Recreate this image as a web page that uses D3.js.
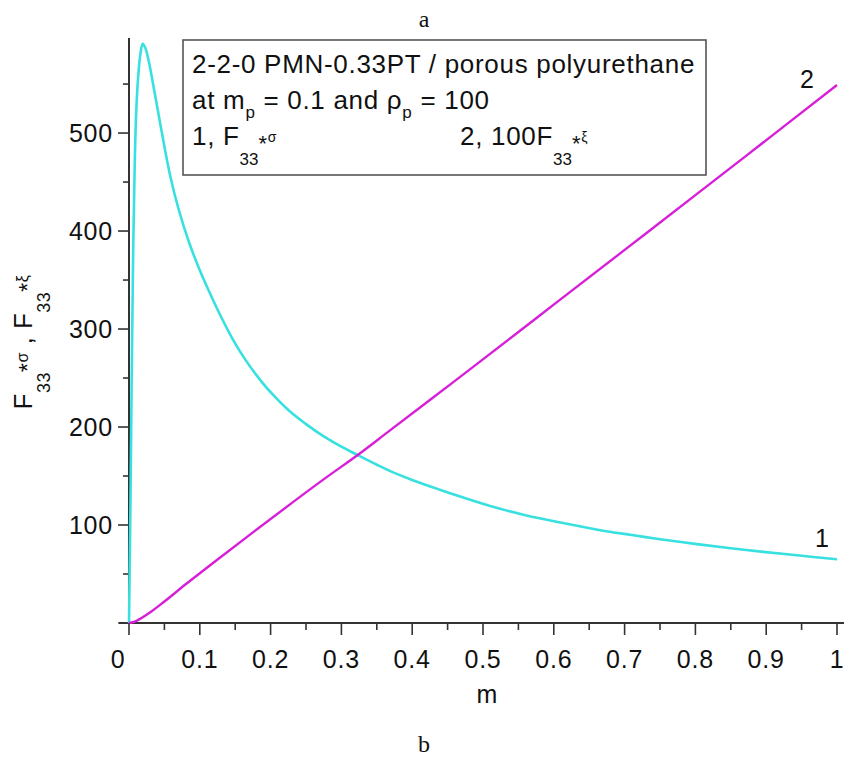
<!DOCTYPE html>
<html>
<head>
<meta charset="utf-8">
<script src="https://cdn.jsdelivr.net/npm/d3@7"></script>
<style>
  body { margin: 0; background: #fff; }
  svg { display: block; }
  text { font-family: "Liberation Sans", Arial, sans-serif; fill: #111; }
  .serif { font-family: "Liberation Serif", "Times New Roman", serif; }
</style>
</head>
<body>
<div id="chart"></div>
<script>
// curve 1, F33*sigma
const m1 = [0, 0.002, 0.004, 0.006, 0.008, 0.010, 0.013, 0.016, 0.0193, 0.023, 0.028, 0.034,
    0.044, 0.058, 0.07, 0.085, 0.1, 0.114, 0.13, 0.147, 0.165, 0.18, 0.2, 0.227, 0.25,
    0.274, 0.3, 0.324, 0.35, 0.369, 0.4, 0.439, 0.47, 0.519, 0.56, 0.613, 0.66, 0.708,
    0.75, 0.802, 0.85, 0.896, 0.95, 1.0];
const f1 = [0, 120, 260, 385, 465, 518, 558, 580, 591, 587, 573, 550,
    510, 457, 422.5, 388, 360, 337, 312.5, 289, 268, 253, 235.5, 216, 203,
    191, 180, 171, 161.5, 155, 146, 136, 128.5, 117.5, 110, 102, 95.5, 90,
    85.5, 80.5, 76.3, 72.6, 68.6, 65];

// curve 2, 100 F33*xi
const m2 = [0, 0.01, 0.03, 0.05, 0.081, 0.12, 0.176, 0.27, 0.324, 0.364, 0.453, 0.55,
    0.609, 0.731, 0.872, 1.0];
const f2 = [0, 2, 11, 22, 40, 62, 93, 144, 172, 194, 243, 297,
    330, 398, 477, 549];

const xMajor = [0, 0.1, 0.2, 0.3, 0.4, 0.5, 0.6, 0.7, 0.8, 0.9, 1];
const xMinor = [0.05, 0.15, 0.25, 0.35, 0.45, 0.55, 0.65, 0.75, 0.85, 0.95];
const yMajor = [100, 200, 300, 400, 500];
const yMinor = [50, 150, 250, 350, 450, 550];

const width = 844, height = 764;

var svg = d3.select('#chart')
    .append('svg')
    .attr('width', width)
    .attr('height', height);

var x = d3.scaleLinear().domain([0, 1]).range([129, 837]);
var y = d3.scaleLinear().domain([0, 597]).range([623, 38]);

// axes
let axisG = svg.append('g').attr('stroke', '#333');

axisG.append('line')
    .attr('x1', x(-0.015)).attr('x2', width)
    .attr('y1', y(0)).attr('y2', y(0))
    .attr('stroke-width', 2);

axisG.append('line')
    .attr('x1', x(0)).attr('x2', x(0))
    .attr('y1', y(0)).attr('y2', y(597))
    .attr('stroke-width', 2);

axisG.selectAll('.xt')
    .data(xMajor.map(d => [d, 12]).concat(xMinor.map(d => [d, 7])))
    .join('line')
    .attr('x1', d => x(d[0])).attr('x2', d => x(d[0]))
    .attr('y1', y(0)).attr('y2', d => y(0) + d[1])
    .attr('stroke-width', 1.6);

axisG.selectAll('.yt')
    .data(yMajor.map(d => [d, 11]).concat(yMinor.map(d => [d, 6])))
    .join('line')
    .attr('x1', x(0)).attr('x2', d => x(0) - d[1])
    .attr('y1', d => y(d[0])).attr('y2', d => y(d[0]))
    .attr('stroke-width', 1.6);

svg.selectAll('.xl')
    .data(xMajor)
    .join('text')
    .attr('text-anchor', 'middle')
    .attr('font-size', 25)
    .attr('letter-spacing', 0.8)
    .attr('x', d => d == 0 ? x(d) - 11 : x(d))
    .attr('y', y(0) + 45)
    .text(d => d3.format('~g')(d));

svg.selectAll('.yl')
    .data(yMajor)
    .join('text')
    .attr('text-anchor', 'end')
    .attr('font-size', 25)
    .attr('letter-spacing', 0.8)
    .attr('x', x(0) - 16)
    .attr('y', d => y(d) + 9)
    .text(d => d);

// curves
var line = d3.line()
    .x(d => x(d[0]))
    .y(d => y(d[1]))
    .curve(d3.curveCatmullRom.alpha(0.5));

svg.append('path')
    .datum(m1.map((d, i) => [d, f1[i]]))
    .attr('d', line)
    .attr('fill', 'none')
    .attr('stroke', '#38e0e0')
    .attr('stroke-width', 2.6);

svg.append('path')
    .datum(m2.map((d, i) => [d, f2[i]]))
    .attr('d', line)
    .attr('fill', 'none')
    .attr('stroke', '#d81fd8')
    .attr('stroke-width', 2.4);

svg.append('text').attr('font-size', 25).attr('text-anchor', 'middle')
    .attr('x', 822).attr('y', 547).text('1');
svg.append('text').attr('font-size', 25).attr('text-anchor', 'middle')
    .attr('x', 807).attr('y', 88).text('2');

// legend box
svg.append('rect')
    .attr('x', 183).attr('y', 40)
    .attr('width', 523).attr('height', 135)
    .attr('fill', '#fff')
    .attr('stroke', '#555')
    .attr('stroke-width', 1.6);

let legG = svg.append('g').attr('font-size', 26).attr('letter-spacing', 0.7);

legG.append('text').attr('x', 192).attr('y', 73)
    .text('2-2-0 PMN-0.33PT / porous polyurethane');

let l2 = legG.append('text').attr('x', 192).attr('y', 109);
l2.append('tspan').text('at m');
l2.append('tspan').attr('font-size', 17).attr('dy', 9).text('p');
l2.append('tspan').attr('dy', -9).text(' = 0.1 and \u03c1');
l2.append('tspan').attr('font-size', 17).attr('dy', 9).text('p');
l2.append('tspan').attr('dy', -9).text(' = 100');

function fLabel(g, xPos, pre, sym) {
    let t = g.append('text').attr('x', xPos).attr('y', 145);
    t.append('tspan').text(pre);
    t.append('tspan').attr('font-size', 17).attr('dy', 20).attr('letter-spacing', 0).text('33');
    t.append('tspan').attr('font-size', 22).attr('dy', -14).text('*');
    t.append('tspan').attr('font-size', 14).attr('dy', -9).attr('letter-spacing', 0).text(sym);
}
fLabel(legG, 192, '1, F', '\u03c3');
fLabel(legG, 460, '2, 100F', '\u03be');

// axis titles
svg.append('text')
    .attr('font-size', 25)
    .attr('text-anchor', 'middle')
    .attr('x', 487).attr('y', 703)
    .text('m');

let yt = svg.append('text')
    .attr('font-size', 26)
    .attr('text-anchor', 'middle')
    .attr('letter-spacing', 0.5)
    .attr('transform', 'translate(32,342) rotate(-90)');
yt.append('tspan').text('F');
yt.append('tspan').attr('font-size', 18).attr('dy', 18).text('33');
yt.append('tspan').attr('font-size', 23).attr('dy', -14).text('*');
yt.append('tspan').attr('font-size', 16).attr('dy', -8).text('\u03c3');
yt.append('tspan').attr('dy', 4).text(' , F');
yt.append('tspan').attr('font-size', 18).attr('dy', 18).text('33');
yt.append('tspan').attr('font-size', 23).attr('dy', -14).text('*');
yt.append('tspan').attr('font-size', 16).attr('dy', -8).text('\u03be');

// panel letters
svg.append('text').classed('serif', true)
    .attr('font-size', 24).attr('text-anchor', 'middle')
    .attr('x', 424).attr('y', 27).text('a');
svg.append('text').classed('serif', true)
    .attr('font-size', 24).attr('text-anchor', 'middle')
    .attr('x', 424).attr('y', 752).text('b');
</script>
</body>
</html>
